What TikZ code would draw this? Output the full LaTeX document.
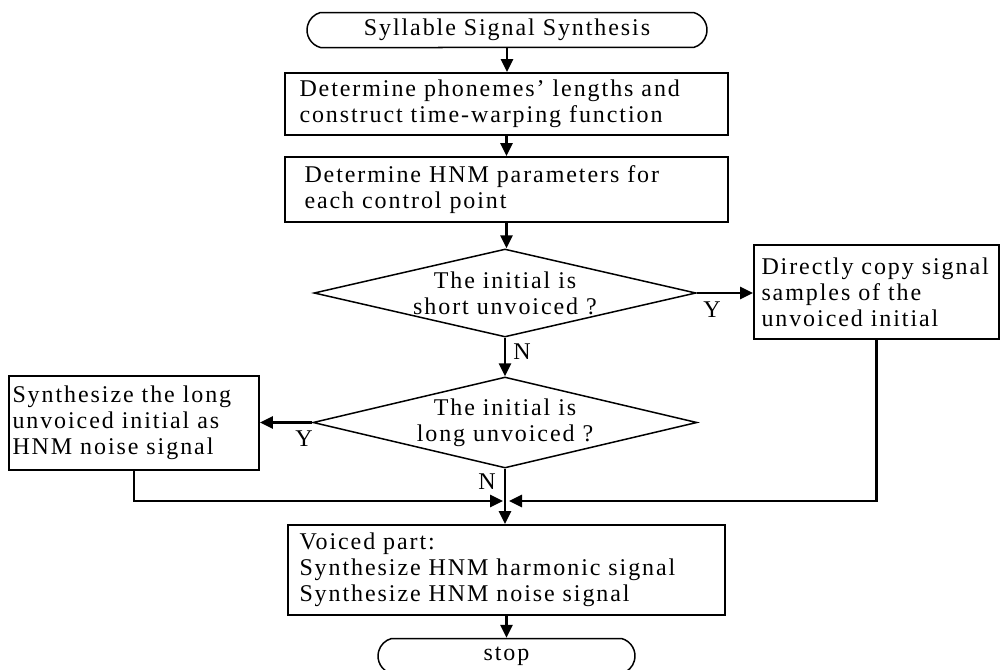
\documentclass[tikz,border=0pt]{standalone}
\usepackage{fontspec}
\setmainfont{Liberation Serif}[LetterSpace=8]
\usetikzlibrary{shapes.geometric,shapes.misc,arrows.meta,calc}
\begin{document}
\begin{tikzpicture}[x=0.5pt,y=-0.5pt,
  font=\fontsize{12}{13}\selectfont,
  box/.style={draw,line width=0.9pt,inner sep=0pt},
  txt/.style={anchor=west,align=left,inner sep=0pt},
  ctxt/.style={align=center,inner sep=0pt},
  dia/.style={draw,diamond,line width=0.75pt,inner sep=0pt},
  term/.style={draw,rounded rectangle,rounded rectangle arc length=150,line width=0.75pt,inner sep=0pt},
  arr/.style={line width=1.3pt,-{Triangle[length=6.5pt,width=6pt]}},
  lbl/.style={inner sep=0pt}
]
\useasboundingbox (0,0) rectangle (1000,669);
\clip (0,0) rectangle (1000,669);

\node[term,minimum width=200pt,minimum height=17.5pt] (start) at (507,30) {Syllable Signal Synthesis};

\node[box,minimum width=221.5pt,minimum height=31pt] (b1) at (506.5,104) {};
\node[txt] (t1) at ([xshift=7.5pt]b1.west) {Determine phonemes' lengths and\\construct time-warping function};

\node[box,minimum width=221.5pt,minimum height=32.5pt] (b2) at (506.5,189.5) {};
\node[txt] (t2) at ([xshift=10pt]b2.west) {Determine HNM parameters for\\each control point};

\node[dia,minimum width=191pt,minimum height=44pt] (d1) at (505,293) {};
\node[ctxt] (td1) at (d1.center) {The initial is\\short unvoiced ?};

\node[box,minimum width=122.5pt,minimum height=47pt] (b3) at (876.5,292) {};
\node[txt] (t3) at ([xshift=4pt]b3.west) {Directly copy signal\\samples of the\\unvoiced initial};

\node[dia,minimum width=192pt,minimum height=45.5pt] (d2) at (505,422.5) {};
\node[ctxt] (td2) at (d2.center) {The initial is\\long unvoiced ?};

\node[box,minimum width=125pt,minimum height=47pt] (b4) at (134,423) {};
\node[txt] (t4) at ([xshift=2pt]b4.west) {Synthesize the long\\unvoiced initial as\\HNM noise signal};

\node[box,minimum width=218.5pt,minimum height=45pt] (b5) at (506.5,570) {};
\node[txt] (t5) at ([xshift=6pt]b5.west) {Voiced part:\\Synthesize HNM harmonic signal\\Synthesize HNM noise signal};

\node[term,minimum width=128.5pt,minimum height=17.5pt] (stop) at (506.5,656) {stop};

\coordinate (m) at (506,501);

\draw[arr] (start.south) -- (start.south |- b1.north);
\draw[arr] (b1.south) -- (b1.south |- b2.north);
\draw[arr] (b2.south) -- (b2.south |- d1.north);
\draw[arr] (d1.east) -- (d1.east -| b3.west);
\draw[arr] (d1.south) -- (d1.south |- d2.north);
\draw[arr] (d2.west) -- (d2.west -| b4.east);
\draw[arr] (d2.south) -- (d2.south |- b5.north);
\draw[arr] (b4.south) |- ([xshift=-1.5pt]m);
\draw[arr] (b3.south) |- ([xshift=1.5pt]m);
\draw[arr] (b5.south) -- (b5.south |- stop.north);

\node[lbl] (y1) at (712,310) {Y};
\node[lbl] (y2) at (304,439) {Y};
\node[lbl] (n1) at (522,352) {N};
\node[lbl] (n2) at (487,482) {N};
\end{tikzpicture}
\end{document}
